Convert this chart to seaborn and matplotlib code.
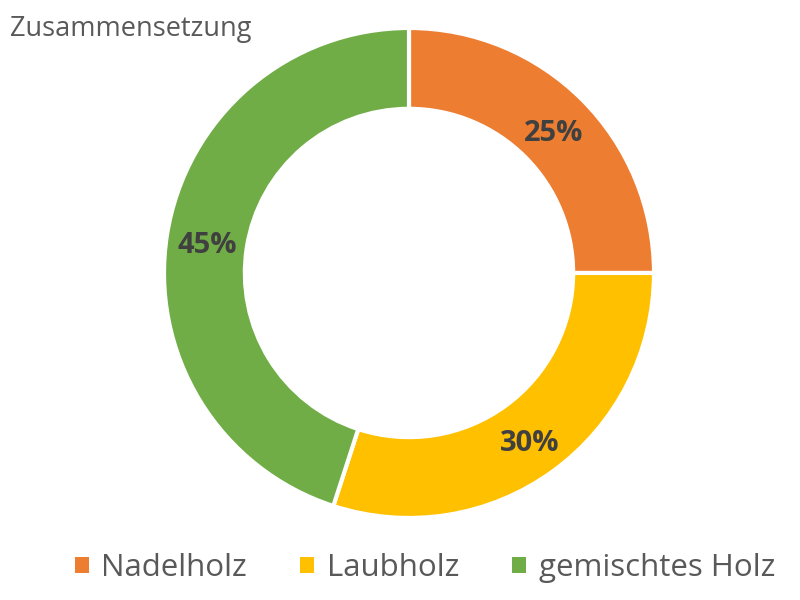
import matplotlib
matplotlib.use("Agg")
import matplotlib.pyplot as plt
from matplotlib.patches import Patch
import numpy as np
import seaborn as sns

categories = ["Nadelholz", "Laubholz", "gemischtes Holz"]
shares = [25, 30, 45]
colors = ["#ED7D31", "#FFC000", "#70AD47"]

sns.set_theme(style="white")
plt.rcParams['font.family'] = ['Open Sans', 'DejaVu Sans']

fig = plt.figure(figsize=(8, 6), dpi=100)
ax = fig.add_axes([0.205, 0.1367, 0.6125, 0.8167])

palette = sns.color_palette(colors)
wedges, texts = ax.pie(
    shares, colors=palette, startangle=90, counterclock=False, radius=1.0,
    wedgeprops=dict(width=0.33, edgecolor="white", linewidth=3),
)
ax.set_aspect("equal")
ax.set_xlim(-1, 1)
ax.set_ylim(-1, 1)

# percentage labels in the middle of the ring
for w, v in zip(wedges, shares):
    mid = np.deg2rad((w.theta1 + w.theta2) / 2)
    r = 0.835
    ax.text(r * np.cos(mid), r * np.sin(mid) - 0.02, f"{v}%", ha="center", va="center",
            fontsize=21, fontweight="bold", color="#404040")

fig.text(0.012, 0.952, "Zusammensetzung", fontsize=19.5, color="#595959",
         ha="left", va="center")

handles = [Patch(facecolor=c, edgecolor="none") for c in colors]
fig.legend(handles, categories, loc="center", bbox_to_anchor=(0.531, 0.053), ncol=3,
           frameon=False, fontsize=22.5, handlelength=0.45, handleheight=0.45,
           handletextpad=0.4, columnspacing=1.7, labelcolor="#595959")

fig.savefig("out.png", dpi=100, facecolor="white")
